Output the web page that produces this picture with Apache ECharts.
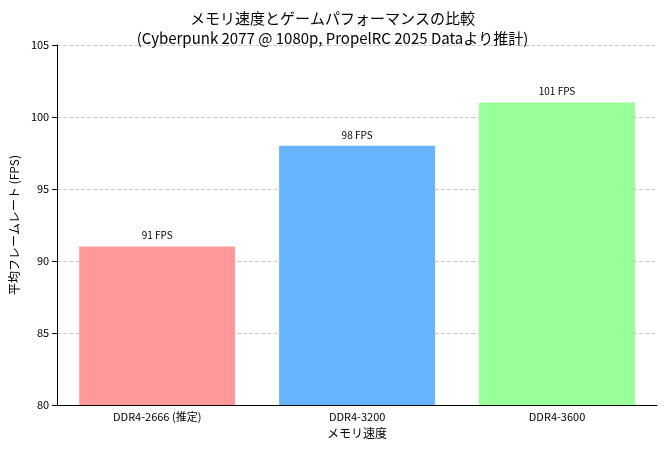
<!DOCTYPE html>
<html lang="ja">
<head>
    <meta charset="UTF-8">
    <title>メモリ速度とゲームパフォーマンス</title>
    <script src="https://cdn.jsdelivr.net/npm/echarts@6/dist/echarts.min.js"></script>
</head>
<body style="margin:0">
<div id="main" style="width: 665px;height:450px;"></div>
<script type="text/javascript">
    var categories = ['DDR4-2666 (推定)', 'DDR4-3200', 'DDR4-3600'];
    var fpsValues = [91, 98, 101];
    var barColors = ['#ff9999', '#66b3ff', '#99ff99'];

    var font = '"Noto Sans CJK JP", "Noto Sans", sans-serif';

    var option = {
        textStyle: { fontFamily: font },
        title: {
            text: 'メモリ速度とゲームパフォーマンスの比較\n(Cyberpunk 2077 @ 1080p, PropelRC 2025 Dataより推計)',
            left: 'center',
            top: 3,
            textStyle: { fontSize: 15, fontWeight: 'normal', color: '#000', lineHeight: 20, fontFamily: font }
        },
        grid: { left: 57, right: 8, top: 45, bottom: 45 },
        xAxis: {
            type: 'category',
            data: categories,
            name: 'メモリ速度',
            nameLocation: 'middle',
            nameGap: 22,
            nameTextStyle: { fontSize: 12, color: '#000' },
            axisLine: { lineStyle: { color: '#000' } },
            axisTick: { alignWithLabel: true, lineStyle: { color: '#000' } },
            axisLabel: { fontSize: 11, color: '#000', margin: 6 }
        },
        yAxis: {
            type: 'value',
            min: 80,
            max: 105,
            interval: 5,
            name: '平均フレームレート (FPS)',
            nameLocation: 'middle',
            nameGap: 36,
            nameTextStyle: { fontSize: 12, color: '#000' },
            axisLine: { show: true, lineStyle: { color: '#000' } },
            axisTick: { show: true, lineStyle: { color: '#000' } },
            axisLabel: { fontSize: 11, color: '#000' },
            splitLine: { lineStyle: { type: 'dashed', color: '#cccccc' } }
        },
        series: [{
            type: 'bar',
            barWidth: '78%',
            data: fpsValues.map(function (v, i) {
                return { value: v, itemStyle: { color: barColors[i] } };
            }),
            label: {
                show: true,
                position: 'top',
                distance: 6,
                fontSize: 10,
                color: '#000',
                formatter: '{c} FPS'
            }
        }]
    };

    var myChart = echarts.init(document.getElementById('main'));
    myChart.setOption(option);
</script>
</body>
</html>
